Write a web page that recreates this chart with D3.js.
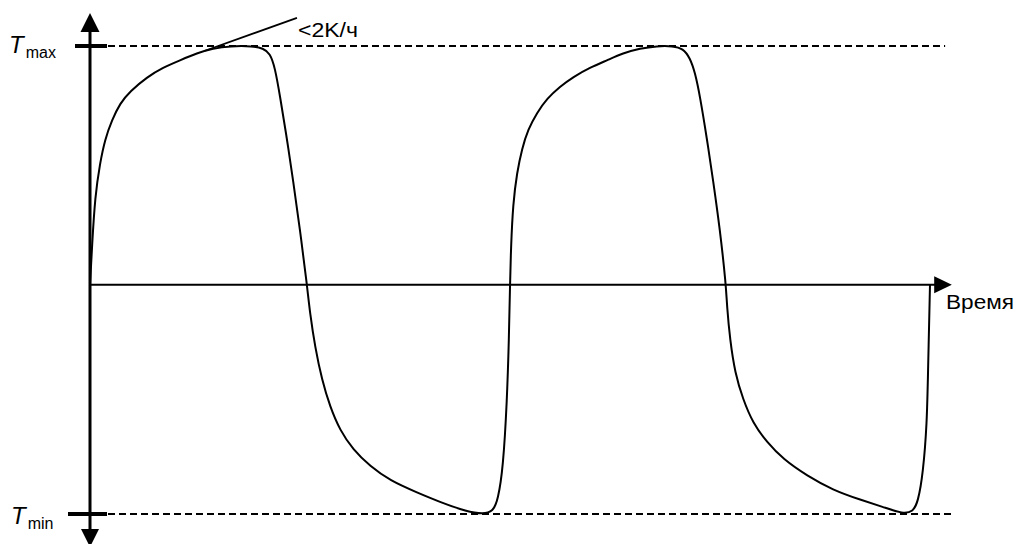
<!DOCTYPE html>
<html>

<head>
  <meta charset="utf-8">
  <title>Temperature cycle</title>
  <script src="https://d3js.org/d3.v7.min.js"></script>
  <style type="text/css">
    body {
      margin: 0;
      background: #fff;
    }

    text {
      font-family: "Liberation Sans", Arial, sans-serif;
      fill: #000;
    }
  </style>
</head>

<body>
  <svg id="chart"></svg>
  <script>
    // Time (arbitrary units) and temperature (Tmax = 1, 0 = axis)
    var times = [
      0, 0.24, 0.6, 1.19, 1.79, 2.62, 3.57, 4.76, 6.79, 8.69, 10.71, 12.74, 14.64, 16.67,
      19.4, 20.6, 21.43, 22.02, 22.62, 23.45, 24.17, 25.0, 25.83,
      26.19, 26.79, 27.62, 28.57, 29.76, 31.31, 33.33, 35.71, 38.93, 41.67, 44.88, 46.79,
      47.98, 48.57, 49.17, 49.64, 49.88, 50.0,
      50.12, 50.36, 50.83, 51.43, 52.14, 53.21, 54.4, 55.95, 57.5, 59.52, 61.55, 63.45,
      65.48, 67.5, 69.4, 70.6, 71.43, 72.02, 72.62, 73.45, 74.17, 75.0, 75.71,
      75.83, 76.19, 76.79, 77.74, 78.93, 80.6, 82.5, 85.36, 88.45, 91.67, 94.4, 96.79,
      97.98, 98.57, 99.17, 99.64, 99.76, 100];
    var temps = [
      0, 0.16, 0.37, 0.51, 0.61, 0.69, 0.76, 0.81, 0.87, 0.91, 0.94, 0.97, 0.99, 1.0,
      1.0, 0.99, 0.97, 0.91, 0.79, 0.61, 0.44, 0.23, 0,
      -0.12, -0.26, -0.4, -0.51, -0.61, -0.69, -0.76, -0.82, -0.87, -0.91, -0.95, -0.96,
      -0.95, -0.9, -0.77, -0.49, -0.22, 0,
      0.16, 0.34, 0.47, 0.57, 0.65, 0.72, 0.78, 0.83, 0.87, 0.91, 0.94, 0.97,
      0.99, 1.0, 1.0, 0.99, 0.95, 0.89, 0.79, 0.61, 0.44, 0.23, 0,
      -0.09, -0.23, -0.37, -0.48, -0.58, -0.66, -0.73, -0.8, -0.86, -0.9, -0.93, -0.96,
      -0.95, -0.91, -0.79, -0.58, -0.37, 0];

    var tMax = 1, tMin = -0.96;
    var levelLabels = ["max", "min"];
    var axisLabel = "Время";
    // tangent near the first maximum
    var tangentTime = [13.69, 24.64];
    var tangentTemp = [0.98, 1.118];
    var tangentLabel = "<2K/ч";

    var width = 1017, height = 544;
    var svg = d3.select("#chart").attr("width", width).attr("height", height);

    var x = d3.scaleLinear().domain([0, 100]).range([90, 930]);
    var y = d3.scaleLinear().domain([tMin, tMax]).range([514, 46]);

    var levels = [tMax, tMin];

    // dashed limit lines
    svg.selectAll(".limit")
      .data(levels)
      .enter()
      .append("line")
      .attr("class", "limit")
      .attr("x1", 108)
      .attr("x2", function (d, i) { return i == 0 ? x(101.8) : x(102.9); })
      .attr("y1", function (d) { return y(d); })
      .attr("y2", function (d) { return y(d); })
      .attr("stroke", "#000")
      .attr("stroke-width", 1.8)
      .attr("stroke-dasharray", "7,4");

    // thick marks on the axis
    svg.selectAll(".mark")
      .data(levels)
      .enter()
      .append("line")
      .attr("x1", function (d, i) { return i == 0 ? 75 : 68; })
      .attr("x2", 107)
      .attr("y1", function (d) { return y(d); })
      .attr("y2", function (d) { return y(d); })
      .attr("stroke", "#000")
      .attr("stroke-width", 4);

    // horizontal axis
    svg.append("line")
      .attr("x1", x(0)).attr("x2", x(101))
      .attr("y1", y(0)).attr("y2", y(0))
      .attr("stroke", "#000").attr("stroke-width", 2);
    svg.append("path")
      .attr("d", "M" + x(100.5) + "," + (y(0) - 8.5) + "L" + x(102.6) + "," + y(0) + "L" + x(100.5) + "," + (y(0) + 8.5) + "Z")
      .attr("fill", "#000");

    // vertical axis
    svg.append("line")
      .attr("x1", x(0)).attr("x2", x(0))
      .attr("y1", 25).attr("y2", 535)
      .attr("stroke", "#000").attr("stroke-width", 3);
    svg.append("path")
      .attr("d", "M" + (x(0) - 9.5) + ",32L" + x(0) + ",13L" + (x(0) + 9.5) + ",32Z")
      .attr("fill", "#000");
    svg.append("path")
      .attr("d", "M" + (x(0) - 9) + ",529L" + x(0) + ",547L" + (x(0) + 9) + ",529Z")
      .attr("fill", "#000");

    // temperature curve
    var pts = times.map(function (t, i) { return [t, temps[i]]; });
    var line = d3.line()
      .x(function (d) { return x(d[0]); })
      .y(function (d) { return y(d[1]); })
      .curve(d3.curveBasis);
    svg.append("path")
      .datum(pts)
      .attr("d", line)
      .attr("fill", "none")
      .attr("stroke", "#000")
      .attr("stroke-width", 2);

    // tangent
    svg.append("line")
      .attr("x1", x(tangentTime[0])).attr("y1", y(tangentTemp[0]))
      .attr("x2", x(tangentTime[1])).attr("y2", y(tangentTemp[1]))
      .attr("stroke", "#000").attr("stroke-width", 1.8);
    svg.append("text")
      .attr("x", 298).attr("y", 37)
      .attr("font-size", 20)
      .attr("textLength", 60)
      .attr("lengthAdjust", "spacingAndGlyphs")
      .text(tangentLabel);

    // T max / T min labels
    var lab = svg.selectAll(".lvl")
      .data(levels)
      .enter()
      .append("text")
      .attr("class", "lvl")
      .attr("x", function (d, i) { return i == 0 ? 9 : 11; })
      .attr("y", function (d, i) { return i == 0 ? 53 : 524; });
    lab.append("tspan")
      .attr("font-size", 24)
      .attr("font-style", "italic")
      .text("T");
    lab.append("tspan")
      .attr("font-size", 16)
      .attr("dx", 2)
      .attr("dy", 5)
      .text(function (d, i) { return levelLabels[i]; });

    // axis label
    svg.append("text")
      .attr("x", 946).attr("y", 309)
      .attr("font-size", 20)
      .attr("textLength", 68)
      .attr("lengthAdjust", "spacingAndGlyphs")
      .text(axisLabel);
  </script>
</body>

</html>
